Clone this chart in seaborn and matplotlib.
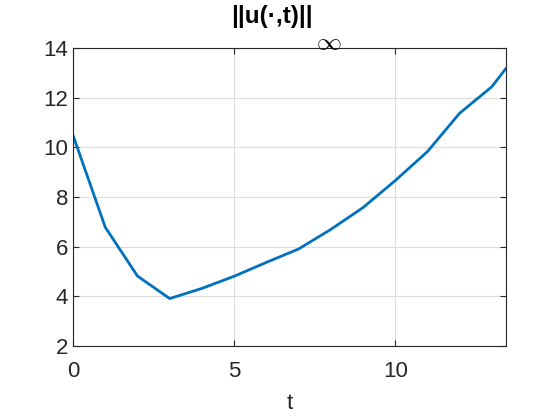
import numpy as np
import pandas as pd
import matplotlib
matplotlib.use("Agg")
import matplotlib.pyplot as plt
import seaborn as sns

# ─── Data ────────────────────────────────────────────────────────────────────
t_values = [0, 1, 2, 3, 4, 5, 6, 7, 8, 9, 10, 11, 12, 13, 13.44]
u_inf = [10.49, 6.78, 4.81, 3.90, 4.31, 4.80, 5.36, 5.90, 6.69, 7.57,
         8.66, 9.83, 11.38, 12.45, 13.19]
x_ticks = [0, 5, 10]
y_ticks = [2, 4, 6, 8, 10, 12, 14]

df = pd.DataFrame({"t": t_values, "u": u_inf})

# ─── Style ───────────────────────────────────────────────────────────────────
sns.set_theme(style="white")
plt.rcParams["font.family"] = ["Liberation Sans", "DejaVu Sans"]

fig = plt.figure(figsize=(5.6, 4.2), dpi=100)
ax = fig.add_axes([0.1304, 0.177, 0.7732, 0.708])

sns.lineplot(data=df, x="t", y="u", ax=ax, color="#0072BD", linewidth=2.0)

ax.set_xlim(0, 13.44)
ax.set_ylim(2, 14)
ax.set_xticks(x_ticks)
ax.set_yticks(y_ticks)
ax.grid(True, color="#dcdcdc", linewidth=0.8)
ax.set_axisbelow(True)

for side in ax.spines.values():
    side.set_color("#262626")
    side.set_linewidth(0.8)

ax.tick_params(axis="both", direction="in", length=4, width=0.8,
               labelsize=16, colors="#262626", top=True, right=True,
               bottom=True, left=True)
ax.tick_params(axis="x", pad=11)

ax.set_xlabel("t", fontsize=16, color="#262626", labelpad=8)
ax.set_ylabel("")

# Title: bold norm, with a big lowered infinity sign like MATLAB's subscript
ax.text(0.553, 1.085, "||u(·,t)||", transform=ax.transAxes, ha="right",
        va="baseline", fontsize=17.5, fontweight="bold", color="black")
ax.text(0.562, 1.02, r"$\infty$", transform=ax.transAxes, ha="left",
        va="center", fontsize=18, color="black", math_fontfamily="cm")

plt.savefig("out.png", dpi=100)
plt.close()
